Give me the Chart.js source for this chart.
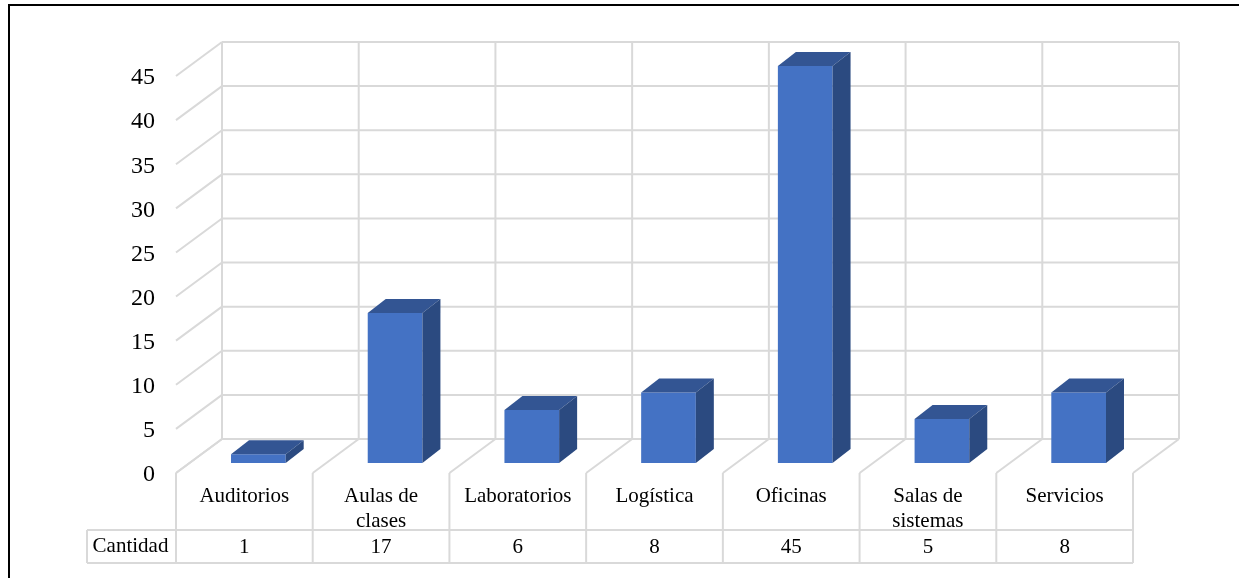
<!DOCTYPE html>
<html lang="es">
<head>
<meta charset="utf-8">
<title>Cantidad por tipo de espacio</title>
<script src="https://cdn.jsdelivr.net/npm/chart.js@4"></script>
<style>
  html, body { margin: 0; padding: 0; background: #fff; overflow: hidden; }
  #wrap { position: relative; width: 1239px; height: 578px; }
  #frame { position: absolute; left: 8px; top: 4px; right: -4px; bottom: -4px; border: 2px solid #000; }
</style>
</head>
<body>
<div id="wrap">
  <canvas id="chart" width="1239" height="578"></canvas>
  <div id="frame"></div>
</div>
<script>
// Data
const categories = [["Auditorios"], ["Aulas de", "clases"], ["Laboratorios"], ["Logística"], ["Oficinas"], ["Salas de", "sistemas"], ["Servicios"]];
const values = [1, 17, 6, 8, 45, 5, 8];
const seriesName = "Cantidad";

const fontFamily = "'Liberation Serif', 'Times New Roman', serif";
const gridColor = "#d9d9d9";

// Tick labels sit a little under their wall line
const labelDrop = 2;
// Depth of the back wall, and of the bars, seen from the front of the floor
const wallDx = 46, wallDy = -34;
const barShiftX = 14, barShiftY = -10 - labelDrop;
const barDx = 18, barDy = -14;
const tableTop = 530, tableBottom = 563, tableLeft = 87;

function line(ctx, x1, y1, x2, y2) {
  ctx.beginPath();
  ctx.moveTo(x1, y1);
  ctx.lineTo(x2, y2);
  ctx.stroke();
}

function face(ctx, color, points) {
  ctx.fillStyle = color;
  ctx.beginPath();
  points.forEach((p, i) => (i ? ctx.lineTo(p[0], p[1]) : ctx.moveTo(p[0], p[1])));
  ctx.closePath();
  ctx.fill();
}

// Walls, floor and data table
const wallsPlugin = {
  id: "walls",
  beforeDatasetsDraw(chart) {
    const { ctx, chartArea: area, scales } = chart;
    const floorY = area.bottom - labelDrop;
    const topY = area.top - labelDrop;
    const xs = [];
    for (let i = 0; i <= categories.length; i++) {
      xs.push(area.left + (area.width * i) / categories.length);
    }

    ctx.save();
    ctx.strokeStyle = gridColor;
    ctx.lineWidth = 2;

    // left wall and back wall lines for every tick
    scales.y.ticks.forEach((t) => {
      const y = scales.y.getPixelForValue(t.value) - labelDrop;
      line(ctx, area.left, y, area.left + wallDx, y + wallDy);
      line(ctx, area.left + wallDx, y + wallDy, area.right + wallDx, y + wallDy);
    });

    xs.forEach((x) => {
      line(ctx, x + wallDx, topY + wallDy, x + wallDx, floorY + wallDy); // back wall
      line(ctx, x, floorY, x + wallDx, floorY + wallDy); // floor
      line(ctx, x, floorY, x, tableBottom); // label cells
    });

    // data table
    line(ctx, tableLeft, tableTop, area.right, tableTop);
    line(ctx, tableLeft, tableBottom, area.right, tableBottom);
    line(ctx, tableLeft, tableTop, tableLeft, tableBottom);

    ctx.fillStyle = "#000";
    ctx.font = "21px " + fontFamily;
    ctx.textAlign = "center";
    ctx.textBaseline = "middle";
    const rowY = (tableTop + tableBottom) / 2;
    ctx.fillText(seriesName, (tableLeft + area.left) / 2 - 1, rowY);
    values.forEach((v, i) => ctx.fillText(String(v), (xs[i] + xs[i + 1]) / 2, rowY + 1));
    ctx.restore();

    // bars stand a little behind the front of the floor
    ctx.save();
    ctx.translate(barShiftX, barShiftY);
  },
  afterDatasetsDraw(chart) {
    const { ctx } = chart;
    chart.getDatasetMeta(0).data.forEach((bar) => {
      const left = bar.x - bar.width / 2;
      const right = bar.x + bar.width / 2;
      face(ctx, "#335593", [[left, bar.y], [left + barDx, bar.y + barDy], [right + barDx, bar.y + barDy], [right, bar.y]]);
      face(ctx, "#2b4a80", [[right, bar.y], [right + barDx, bar.y + barDy], [right + barDx, bar.base + barDy], [right, bar.base]]);
    });
    ctx.restore();
  },
};

new Chart(document.getElementById("chart"), {
  type: "bar",
  data: {
    labels: categories,
    datasets: [
      {
        label: seriesName,
        data: values,
        backgroundColor: "#4472c4",
        borderWidth: 0,
        categoryPercentage: 1,
        barPercentage: 0.4,
      },
    ],
  },
  options: {
    responsive: false,
    animation: false,
    layout: { padding: { top: 76 + labelDrop, right: 106, left: 0, bottom: 0 } },
    plugins: { legend: { display: false }, tooltip: { enabled: false } },
    scales: {
      x: {
        grid: { display: false },
        border: { display: false },
        ticks: {
          color: "#000",
          font: { family: fontFamily, size: 21, lineHeight: 1.19 },
          padding: 3 - labelDrop,
          maxRotation: 0,
          minRotation: 0,
          autoSkip: false,
        },
        afterFit(scale) { scale.height = 105 - labelDrop; },
      },
      y: {
        min: 0,
        max: 45,
        grid: { display: false },
        border: { display: false },
        ticks: {
          stepSize: 5,
          color: "#000",
          font: { family: fontFamily, size: 24 },
          padding: 13,
        },
        afterFit(scale) { scale.width = 176; },
      },
    },
  },
  plugins: [wallsPlugin],
});
</script>
</body>
</html>
